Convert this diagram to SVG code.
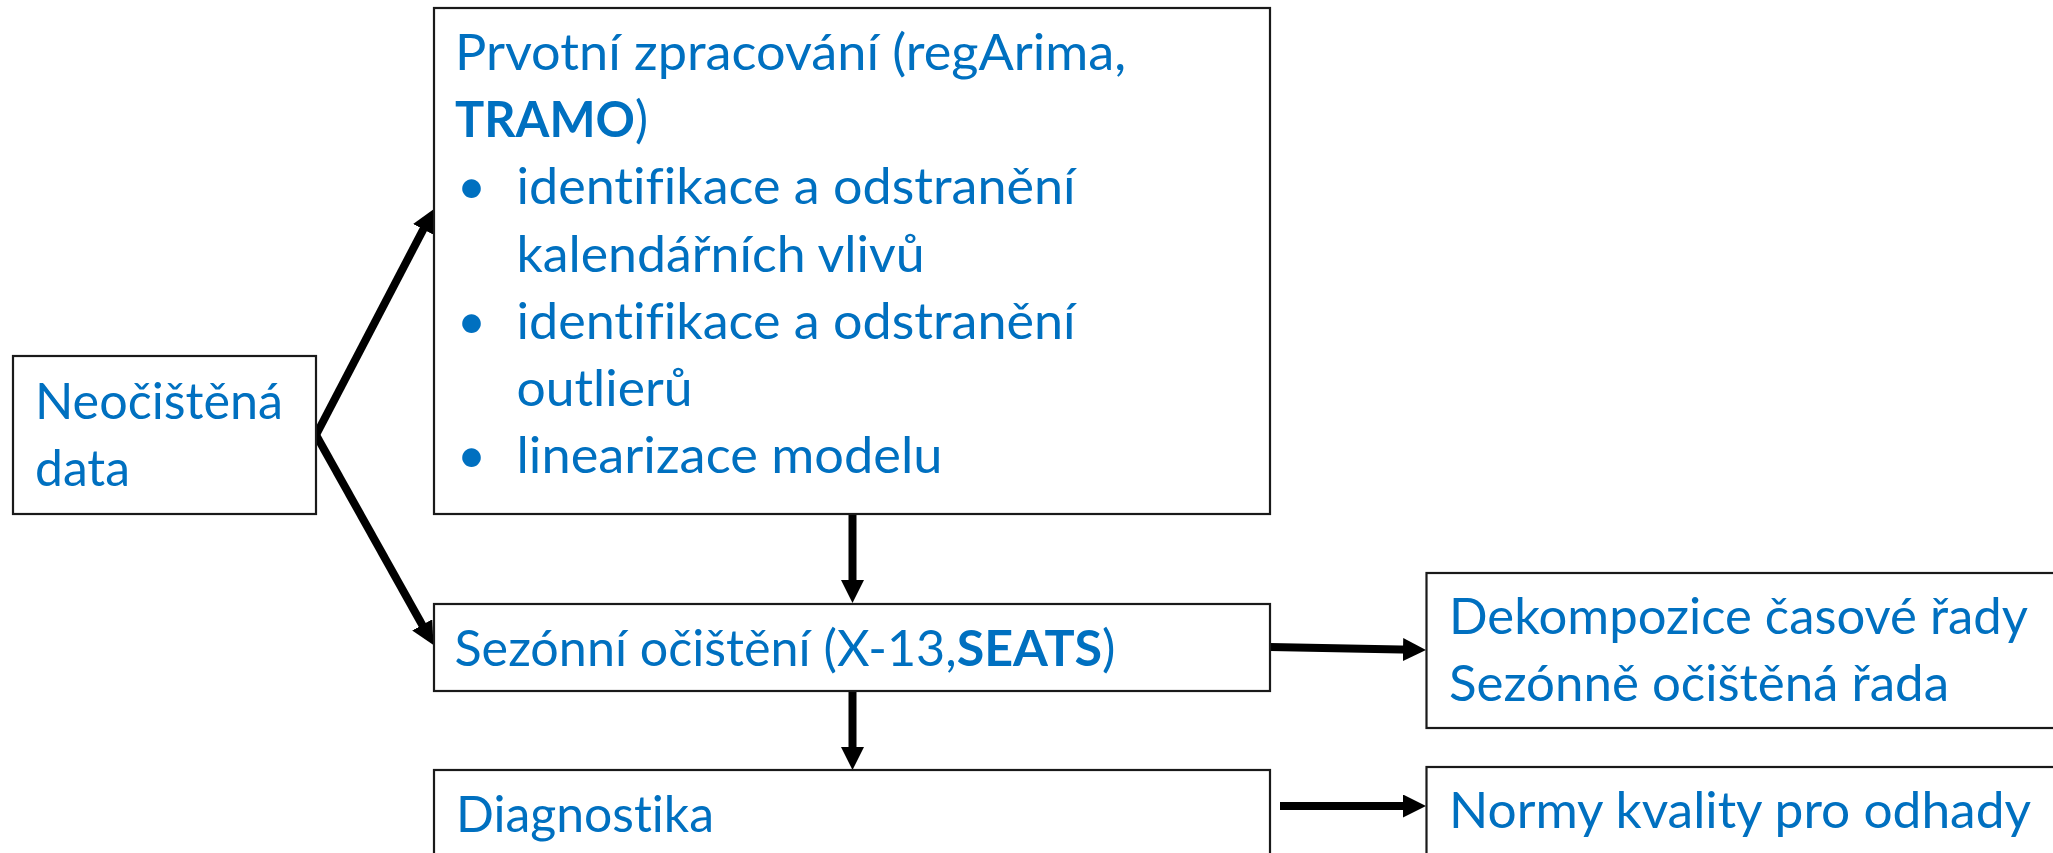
<svg xmlns="http://www.w3.org/2000/svg" width="2053" height="853" viewBox="0 0 2053 853">
<style>
.box{fill:#fff;stroke:#1a1a1a;stroke-width:2.2}
.t{font-family:Lato,"Open Sans","Liberation Sans",sans-serif;font-size:50px;fill:#0070C0;font-variant-ligatures:none}
.b{font-weight:bold}
.c{stroke:#000;stroke-width:8;fill:none;marker-end:url(#ah)}
</style>
<defs>
<marker id="ah" markerUnits="userSpaceOnUse" markerWidth="24" markerHeight="24" refX="11" refY="11.5" orient="auto">
<path d="M0,0 L23,11.5 L0,23 z" fill="#000"/>
</marker>
</defs>
<rect width="2053" height="853" fill="#fff"/>
<g id="connectors">
<line class="c" x1="316" y1="435" x2="428.4" y2="219.6"/>
<line class="c" x1="316" y1="435" x2="427.6" y2="634.5"/>
<line class="c" x1="852.5" y1="514" x2="852.5" y2="591"/>
<line class="c" x1="852.5" y1="691" x2="852.5" y2="758"/>
<line class="c" x1="1270" y1="647" x2="1414" y2="649.8"/>
<line class="c" x1="1280" y1="806" x2="1414" y2="806"/>
</g>
<g id="n1">
<rect class="box" x="13" y="356" width="303" height="158"/>
<text class="t" x="35" y="419" textLength="248" lengthAdjust="spacingAndGlyphs">Neočištěná</text>
<text class="t" x="35" y="486" textLength="95" lengthAdjust="spacingAndGlyphs">data</text>
</g>
<g id="n2">
<rect class="box" x="434" y="8" width="836" height="506"/>
<text class="t" x="455" y="70" textLength="671" lengthAdjust="spacingAndGlyphs">Prvotní zpracování (regArima,</text>
<text class="t" x="455" y="137" textLength="193" lengthAdjust="spacingAndGlyphs"><tspan class="b">TRAMO</tspan>)</text>
<text class="t" x="457" y="204" font-size="44">•</text>
<text class="t" x="516.5" y="204" textLength="559" lengthAdjust="spacingAndGlyphs">identifikace a odstranění</text>
<text class="t" x="516.5" y="272" textLength="408" lengthAdjust="spacingAndGlyphs">kalendářních vlivů</text>
<text class="t" x="457" y="339" font-size="44">•</text>
<text class="t" x="516.5" y="339" textLength="559" lengthAdjust="spacingAndGlyphs">identifikace a odstranění</text>
<text class="t" x="516.5" y="406" textLength="176" lengthAdjust="spacingAndGlyphs">outlierů</text>
<text class="t" x="457" y="473" font-size="44">•</text>
<text class="t" x="516.5" y="473" textLength="426" lengthAdjust="spacingAndGlyphs">linearizace modelu</text>
</g>
<g id="n3">
<rect class="box" x="434" y="604" width="836" height="87"/>
<text class="t" x="454.5" y="666" textLength="661" lengthAdjust="spacingAndGlyphs">Sezónní očištění (X-13,<tspan class="b">SEATS</tspan>)</text>
</g>
<g id="n4">
<rect class="box" x="434" y="770" width="836" height="100"/>
<text class="t" x="456" y="832" textLength="258" lengthAdjust="spacingAndGlyphs">Diagnostika</text>
</g>
<g id="n5">
<rect class="box" x="1426.5" y="573" width="640" height="155"/>
<text class="t" x="1449" y="634" textLength="579" lengthAdjust="spacingAndGlyphs">Dekompozice časové řady</text>
<text class="t" x="1449" y="701" textLength="500" lengthAdjust="spacingAndGlyphs">Sezónně očištěná řada</text>
</g>
<g id="n6">
<rect class="box" x="1426.5" y="767" width="640" height="100"/>
<text class="t" x="1449" y="828" textLength="582" lengthAdjust="spacingAndGlyphs">Normy kvality pro odhady</text>
</g>
</svg>
